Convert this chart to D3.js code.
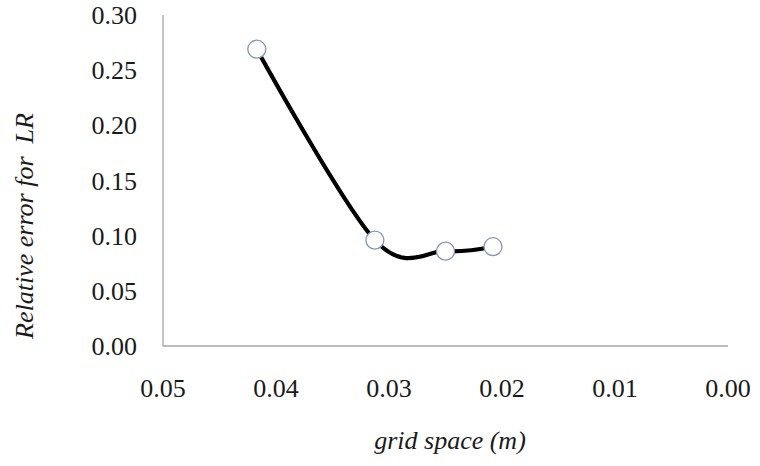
<!DOCTYPE html>
<html><head><meta charset="utf-8">
<script src="https://cdn.jsdelivr.net/npm/d3@7"></script>
<style>body{margin:0;background:#fff}</style>
</head><body>
<svg id="c" width="760" height="466"></svg>
<script>
const gridSpace = [0.0417, 0.03125, 0.025, 0.0208];
const relError = [0.269, 0.096, 0.086, 0.090];
const xTicks = [0.05, 0.04, 0.03, 0.02, 0.01, 0.00];
const yTicks = [0.00, 0.05, 0.10, 0.15, 0.20, 0.25, 0.30];
const xTitle = "grid space (m)";
const yTitle = "Relative error for\u00a0 LR";

const svg = d3.select("#c");
const x = d3.scaleLinear().domain([0.05, 0]).range([163, 728]);
const y = d3.scaleLinear().domain([0, 0.30]).range([346, 15]);

function txt(sel) {
  return sel.attr("font-family", "Liberation Serif, Times New Roman, serif")
    .style("font-family", '"Liberation Serif", "Times New Roman", serif')
    .attr("font-size", 26).attr("fill", "#1a1a1a");
}

// axes lines
svg.append("line").attr("x1", x(0.05)).attr("x2", x(0.05)).attr("y1", y(0.30)).attr("y2", y(0))
  .attr("stroke", "#a6a6a6").attr("stroke-width", 1.3);
svg.append("line").attr("x1", x(0.05)).attr("x2", x(0)).attr("y1", y(0)).attr("y2", y(0))
  .attr("stroke", "#a6a6a6").attr("stroke-width", 1.3);

// tick labels
yTicks.forEach(d => {
  txt(svg.append("text")).attr("x", 137).attr("y", y(d) + 9)
    .attr("text-anchor", "end").text(d3.format(".2f")(d));
});
xTicks.forEach(d => {
  txt(svg.append("text")).attr("x", x(d)).attr("y", 397)
    .attr("text-anchor", "middle").text(d3.format(".2f")(d));
});

// titles
txt(svg.append("text")).attr("x", 450).attr("y", 449).attr("text-anchor", "middle")
  .attr("font-style", "italic").text(xTitle);
txt(svg.append("text")).attr("transform", "translate(33,226) rotate(-90)").attr("text-anchor", "middle")
  .attr("font-style", "italic").text(yTitle);

// line
const pts = gridSpace.map((g, i) => [g, relError[i]]);
const line = d3.line().x(d => x(d[0])).y(d => y(d[1])).curve(d3.curveCardinal.tension(0));
svg.append("path").attr("d", line(pts)).attr("fill", "none").attr("stroke", "#000").attr("stroke-width", 4.2);

svg.append("g").selectAll("circle").data(pts).join("circle")
  .attr("cx", d => x(d[0])).attr("cy", d => y(d[1])).attr("r", 9)
  .attr("fill", "#fff").attr("stroke", "#8496b4").attr("stroke-width", 1.3);
</script>
</body></html>
